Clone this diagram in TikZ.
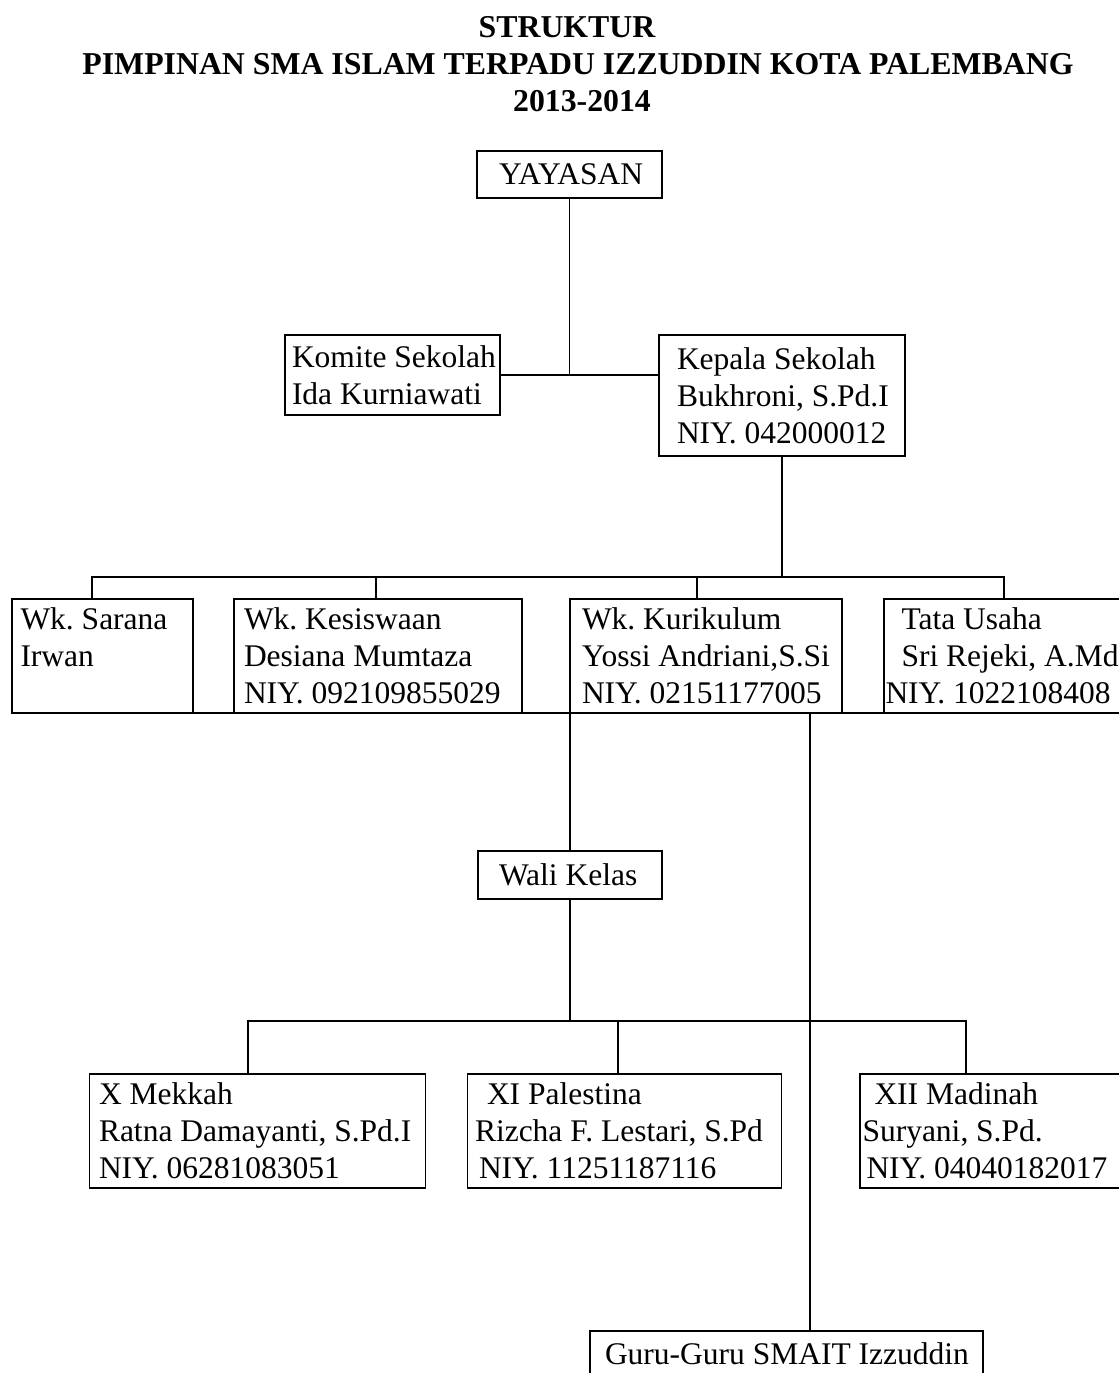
\documentclass[tikz,border=0pt]{standalone}
\usepackage{fontspec}
\setmainfont{Liberation Serif}
\newcommand\boxfont{\fontsize{15.75}{18.5}\selectfont\spaceskip0.25em\relax\hyphenpenalty10000\exhyphenpenalty10000\relax}
\tikzset{
  box/.style={draw, anchor=north west, align=flush left, inner ysep=0pt, outer sep=0pt,
    font=\boxfont},
  headline/.style={anchor=base, font=\fontsize{15.9}{18.5}\selectfont\bfseries},
}
\begin{document}
\begin{tikzpicture}[x=0.5pt, y=-0.5pt, line width=0.9pt]
  \useasboundingbox (0,0) rectangle (1119,1373);
  \clip (0,0) rectangle (1119,1373);
  % title
  \node[headline] (t1) at (567,37.7) {STRUKTUR};
  \node[headline] (t2) at (578,74) {PIMPINAN SMA ISLAM TERPADU IZZUDDIN KOTA PALEMBANG};
  \node[headline] (t3) at (582,111.7) {2013-2014};
  % yayasan, komite, kepala
  \node[box, text width=70.5pt, inner xsep=11pt, minimum height=23.5pt] (yayasan) at (477,151) {YAYASAN};
  \node[box, text width=100.5pt, inner xsep=3.5pt, minimum height=40pt] (komite) at (285,335)
    {Komite~Sekolah\\Ida~Kurniawati};
  \node[box, text width=105pt, inner xsep=9pt, minimum height=60.5pt] (kepala) at (659,335)
    {Kepala~Sekolah\\Bukhroni,~S.Pd.I\\NIY.~042000012};
  % wakil & tata usaha
  \node[box, text width=82pt, inner xsep=4.25pt, minimum height=57pt] (sarana) at (12,599)
    {Wk.~Sarana\\Irwan\\\mbox{}};
  \node[box, text width=134pt, inner xsep=5pt, minimum height=57pt] (kesiswaan) at (234,599)
    {Wk.~Kesiswaan\\Desiana~Mumtaza\\NIY.~092109855029};
  \node[box, text width=124pt, inner xsep=6pt, minimum height=57pt] (kurikulum) at (570,599)
    {Wk.~Kurikulum\\Yossi~Andriani,S.Si\\NIY.~02151177005};
  \node[box, text width=128.5pt, inner xsep=0.75pt, minimum height=57pt] (tatausaha) at (884,599)
    {\hspace*{8pt}Tata~Usaha\\\hspace*{8pt}Sri~Rejeki,~A.Md\\NIY.~1022108408};
  % wali kelas
  \node[box, text width=71pt, inner xsep=10.5pt, minimum height=24pt] (wali) at (478,851) {Wali~Kelas};
  \node[box, text width=158.5pt, inner xsep=4.75pt, minimum height=57pt] (mekkah) at (89.5,1074)
    {X~Mekkah\\Ratna~Damayanti,~S.Pd.I\\NIY.~06281083051};
  \node[box, text width=149.5pt, inner xsep=3.75pt, minimum height=57pt] (palestina) at (467.5,1074)
    {\hspace*{6pt}XI~Palestina\\Rizcha~F.~Lestari,~S.Pd\\\hspace*{2pt}NIY.~11251187116};
  \node[box, text width=137.5pt, inner xsep=1.25pt, minimum height=57pt] (madinah) at (860,1074)
    {\hspace*{6pt}XII~Madinah\\Suryani,~S.Pd.\\\hspace*{2pt}NIY.~04040182017};
  % guru
  \node[box, text width=181.5pt, inner xsep=7.5pt, minimum height=23pt] (guru) at (590,1331)
    {Guru-Guru~SMAIT~Izzuddin};

  % lines
  \draw (yayasan.south) -- (yayasan.south |- komite.east);
  \draw (komite.east) -- (kepala.west |- komite.east);
  \coordinate (bus1) at (782,577);
  \draw (kepala.south) -- (bus1);
  \foreach \n/\x in {sarana/92,kesiswaan/376,kurikulum/697,tatausaha/1004}
    \draw (\n.north -| \x,0) |- (bus1);
  \draw (sarana.south east) -- (tatausaha.south west);
  \draw (kurikulum.south west) -- (wali.north);
  \draw (kurikulum.south west -| 810,0) -- (guru.north -| 810,0);
  \coordinate (bus2) at (570,1021);
  \draw (wali.south) -- (bus2);
  \foreach \n/\x in {mekkah/248,palestina/618,madinah/966}
    \draw (\n.north -| \x,0) |- (bus2);
\end{tikzpicture}
\end{document}
